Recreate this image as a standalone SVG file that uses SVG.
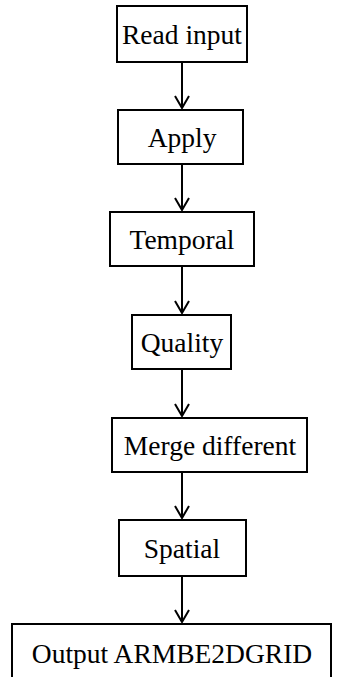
<svg xmlns="http://www.w3.org/2000/svg" width="343" height="677" viewBox="0 0 343 677">
  <style>
    .box { fill: #ffffff; stroke: #000000; stroke-width: 2; }
    .label { font-family: "Liberation Serif", "Times New Roman", serif; font-size: 27.5px; fill: #000000; text-anchor: middle; }
    .link { stroke: #000000; stroke-width: 2; fill: none; }
    .head { stroke: #000000; stroke-width: 2; fill: none; stroke-linejoin: miter; }
  </style>
  <rect width="343" height="677" fill="#ffffff"/>

  <g id="connectors">
    <path class="link" d="M182,63 V108"/>
    <path class="head" d="M175,96 L182,108 L189,96"/>
    <path class="link" d="M182,165 V210"/>
    <path class="head" d="M175,198 L182,210 L189,198"/>
    <path class="link" d="M182,267 V313"/>
    <path class="head" d="M175,301 L182,313 L189,301"/>
    <path class="link" d="M182,370 V416"/>
    <path class="head" d="M175,404 L182,416 L189,404"/>
    <path class="link" d="M182,473 V518"/>
    <path class="head" d="M175,506 L182,518 L189,506"/>
    <path class="link" d="M182,577 V622"/>
    <path class="head" d="M175,610 L182,622 L189,610"/>
  </g>

  <g id="read-input">
    <rect class="box" x="117" y="6" width="130" height="56"/>
    <text class="label" x="182" y="44">Read input</text>
  </g>
  <g id="apply">
    <rect class="box" x="118" y="110" width="125" height="54"/>
    <text class="label" x="182" y="147">Apply</text>
  </g>
  <g id="temporal">
    <rect class="box" x="110" y="212" width="144" height="54"/>
    <text class="label" x="182" y="249">Temporal</text>
  </g>
  <g id="quality">
    <rect class="box" x="132" y="315" width="99" height="54"/>
    <text class="label" x="182" y="352">Quality</text>
  </g>
  <g id="merge-different">
    <rect class="box" x="112" y="418" width="195" height="54"/>
    <text class="label" x="210" y="455">Merge different</text>
  </g>
  <g id="spatial">
    <rect class="box" x="119" y="520" width="127" height="56"/>
    <text class="label" x="182" y="558">Spatial</text>
  </g>
  <g id="output">
    <rect class="box" x="12" y="624" width="319" height="70"/>
    <text class="label" x="172" y="663">Output ARMBE2DGRID</text>
  </g>
</svg>
